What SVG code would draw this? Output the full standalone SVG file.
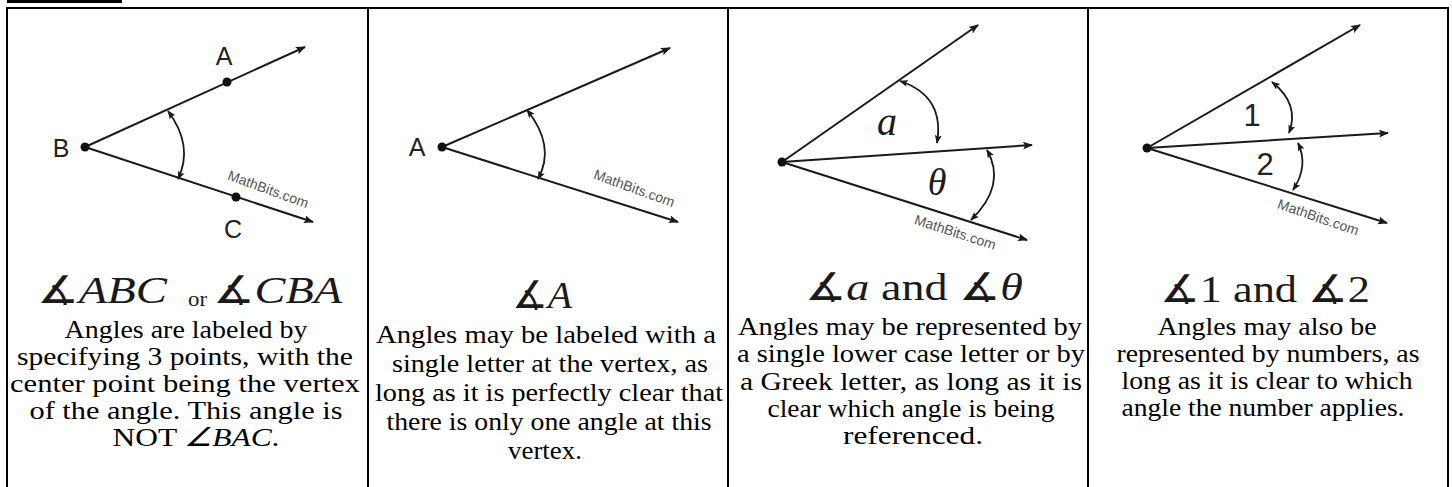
<svg xmlns="http://www.w3.org/2000/svg" width="1452" height="487" viewBox="0 0 1452 487">
<style>
.ray{stroke:#1a1a1a;stroke-width:2;fill:none}
.arc{stroke:#1a1a1a;stroke-width:1.8;fill:none}
.dot{fill:#111}
.lbl{font-family:"Liberation Sans",Arial,sans-serif;font-size:25px;fill:#222;text-anchor:middle}
.wm{font-family:"Liberation Sans",Arial,sans-serif;font-size:14px;fill:#555}
.body{font-family:"Liberation Serif","Times New Roman",serif;font-size:26px;fill:#000;text-anchor:middle}
.ttl{font-family:"Liberation Serif","DejaVu Serif","DejaVu Sans",serif;font-size:38px;fill:#1a1a1a;font-style:italic}
.up{font-style:normal}
.grid{stroke:#000;stroke-width:2;fill:none}
</style>
<defs>
<marker id="ah" viewBox="0 0 10 8" refX="9" refY="4" markerWidth="10" markerHeight="8" markerUnits="userSpaceOnUse" orient="auto">
<path d="M0,0 L10,4 L0,8 L2,4 z" fill="#1a1a1a"/>
</marker>
<marker id="ah2" viewBox="0 0 10 8" refX="9" refY="4" markerWidth="9" markerHeight="7" markerUnits="userSpaceOnUse" orient="auto-start-reverse">
<path d="M0,0 L10,4 L0,8 L2,4 z" fill="#1a1a1a"/>
</marker>
</defs>
<rect width="1452" height="487" fill="#fff"/>
<rect x="7" y="0" width="115" height="3" fill="#000"/>
<g id="table">
<rect class="grid" x="7" y="8" width="1441" height="490"/>
<line class="grid" x1="368" y1="8" x2="368" y2="490"/>
<line class="grid" x1="728" y1="8" x2="728" y2="490"/>
<line class="grid" x1="1088" y1="8" x2="1088" y2="490"/>
</g>
<g id="connectors">
<line class="ray" x1="85" y1="147" x2="305" y2="47" marker-end="url(#ah)"/>
<line class="ray" x1="85" y1="147" x2="313" y2="222" marker-end="url(#ah)"/>
<path class="arc" d="M168,111 Q194,146 178,179" marker-start="url(#ah2)" marker-end="url(#ah2)"/>
<line class="ray" x1="442" y1="147" x2="670" y2="48" marker-end="url(#ah)"/>
<line class="ray" x1="442" y1="147" x2="678" y2="222" marker-end="url(#ah)"/>
<path class="arc" d="M527,110 Q556,146 538,179" marker-start="url(#ah2)" marker-end="url(#ah2)"/>
<line class="ray" x1="782" y1="162" x2="978" y2="25" marker-end="url(#ah)"/>
<line class="ray" x1="782" y1="162" x2="1032" y2="145" marker-end="url(#ah)"/>
<line class="ray" x1="782" y1="162" x2="1027" y2="240" marker-end="url(#ah)"/>
<path class="arc" d="M900,81 Q945,96 937,143" marker-start="url(#ah2)" marker-end="url(#ah2)"/>
<path class="arc" d="M987,150 Q1007,185 971,220" marker-start="url(#ah2)" marker-end="url(#ah2)"/>
<line class="ray" x1="1147" y1="148" x2="1360" y2="25" marker-end="url(#ah)"/>
<line class="ray" x1="1147" y1="148" x2="1388" y2="133" marker-end="url(#ah)"/>
<line class="ray" x1="1147" y1="148" x2="1387" y2="223" marker-end="url(#ah)"/>
<path class="arc" d="M1272,82 Q1300,104 1289,133" marker-start="url(#ah2)" marker-end="url(#ah2)"/>
<path class="arc" d="M1298,143 Q1309,166 1293,190" marker-start="url(#ah2)" marker-end="url(#ah2)"/>
</g>
<g id="panel1">
<circle class="dot" cx="85" cy="147" r="4.5"/>
<circle class="dot" cx="227" cy="82" r="4.5"/>
<circle class="dot" cx="236" cy="197" r="4.5"/>
<text class="lbl" x="224" y="65">A</text>
<text class="lbl" x="61" y="157">B</text>
<text class="lbl" x="233" y="238">C</text>
<text class="wm" x="268" y="194" text-anchor="middle" transform="rotate(20 268 190)">MathBits.com</text>
<text class="ttl" x="37" y="303" textLength="130" lengthAdjust="spacingAndGlyphs">∡ABC</text>
<text class="ttl up" x="188" y="306" style="font-size:22px" textLength="19" lengthAdjust="spacingAndGlyphs">or</text>
<text class="ttl" x="213" y="303" textLength="129" lengthAdjust="spacingAndGlyphs">∡CBA</text>
<text class="body" x="186" y="338" textLength="243" lengthAdjust="spacingAndGlyphs">Angles are labeled by</text>
<text class="body" x="185" y="365" textLength="336" lengthAdjust="spacingAndGlyphs">specifying 3 points, with the</text>
<text class="body" x="185" y="392" textLength="350" lengthAdjust="spacingAndGlyphs">center point being the vertex</text>
<text class="body" x="186" y="419" textLength="313" lengthAdjust="spacingAndGlyphs">of the angle. This angle is</text>
<text class="body" x="196" y="446" textLength="167" lengthAdjust="spacingAndGlyphs">NOT <tspan font-style="italic">∠BAC</tspan>.</text>
</g>
<g id="panel2">
<circle class="dot" cx="442" cy="147" r="4.5"/>
<text class="lbl" x="417" y="156">A</text>
<text class="wm" x="634" y="193" text-anchor="middle" transform="rotate(20 634 189)">MathBits.com</text>
<text class="ttl" x="512" y="308" textLength="60" lengthAdjust="spacingAndGlyphs">∡A</text>
<text class="body" x="546" y="343" textLength="340" lengthAdjust="spacingAndGlyphs">Angles may be labeled with a</text>
<text class="body" x="550" y="372" textLength="316" lengthAdjust="spacingAndGlyphs">single letter at the vertex, as</text>
<text class="body" x="549" y="401" textLength="348" lengthAdjust="spacingAndGlyphs">long as it is perfectly clear that</text>
<text class="body" x="549" y="430" textLength="325" lengthAdjust="spacingAndGlyphs">there is only one angle at this</text>
<text class="body" x="545" y="459" textLength="74" lengthAdjust="spacingAndGlyphs">vertex.</text>
</g>
<g id="panel3">
<circle class="dot" cx="782" cy="162" r="4.5"/>
<text class="ttl" x="887" y="135" text-anchor="middle" style="font-size:40px">a</text>
<text class="ttl" x="937" y="195" text-anchor="middle" style="font-size:38px">θ</text>
<text class="wm" x="955" y="237" text-anchor="middle" transform="rotate(18 955 233)">MathBits.com</text>
<text class="ttl" x="805" y="300" textLength="218" lengthAdjust="spacingAndGlyphs">∡a<tspan font-style="normal"> and </tspan>∡θ</text>
<text class="body" x="910" y="335" textLength="344" lengthAdjust="spacingAndGlyphs">Angles may be represented by</text>
<text class="body" x="911" y="362" textLength="348" lengthAdjust="spacingAndGlyphs">a single lower case letter or by</text>
<text class="body" x="911" y="390" textLength="342" lengthAdjust="spacingAndGlyphs">a Greek letter, as long as it is</text>
<text class="body" x="911" y="417" textLength="287" lengthAdjust="spacingAndGlyphs">clear which angle is being</text>
<text class="body" x="913" y="444" textLength="140" lengthAdjust="spacingAndGlyphs">referenced.</text>
</g>
<g id="panel4">
<circle class="dot" cx="1147" cy="148" r="4.5"/>
<text class="lbl" x="1252" y="126" style="font-size:31px">1</text>
<text class="lbl" x="1265" y="175" style="font-size:31px">2</text>
<text class="wm" x="1318" y="222" text-anchor="middle" transform="rotate(19 1318 218)">MathBits.com</text>
<text class="ttl up" x="1160" y="302" textLength="210" lengthAdjust="spacingAndGlyphs">∡1 and ∡2</text>
<text class="body" x="1267" y="335" textLength="219" lengthAdjust="spacingAndGlyphs">Angles may also be</text>
<text class="body" x="1268" y="362" textLength="303" lengthAdjust="spacingAndGlyphs">represented by numbers, as</text>
<text class="body" x="1267" y="389" textLength="291" lengthAdjust="spacingAndGlyphs">long as it is clear to which</text>
<text class="body" x="1263" y="416" textLength="283" lengthAdjust="spacingAndGlyphs">angle the number applies.</text>
</g>
</svg>
